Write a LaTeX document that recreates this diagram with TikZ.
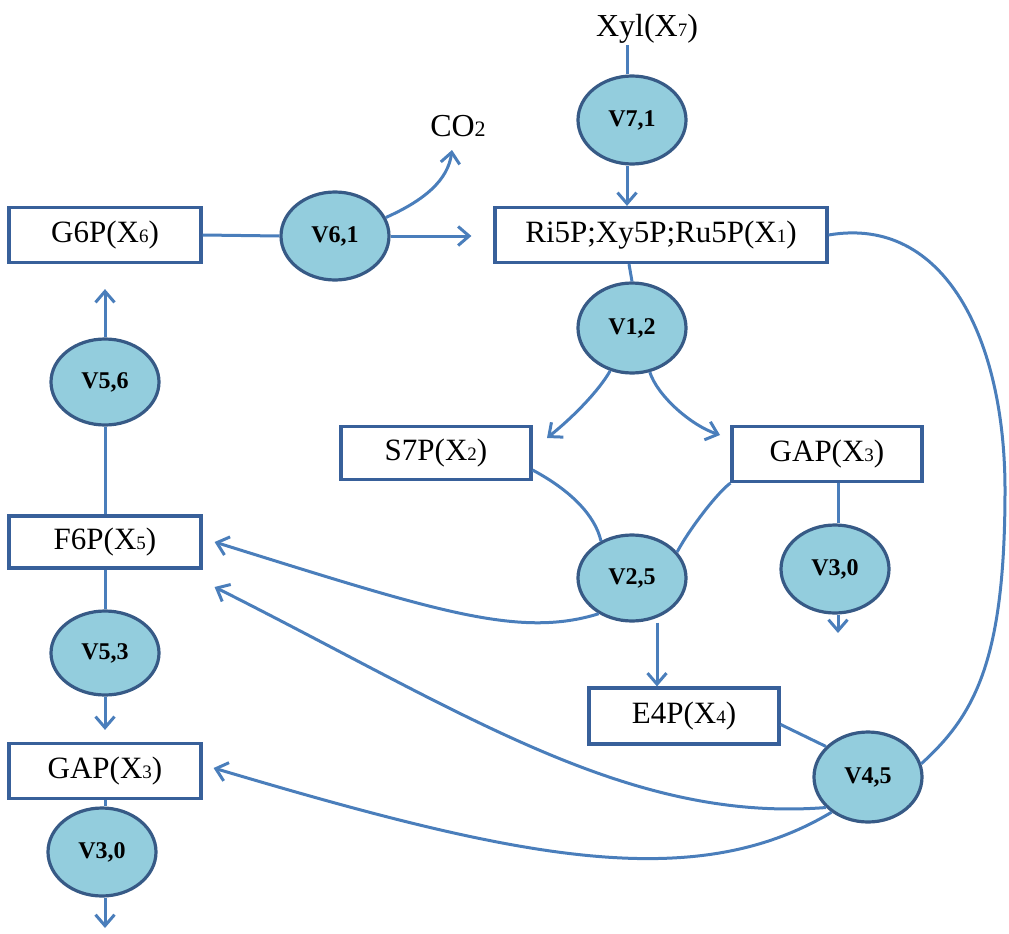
\documentclass[tikz,border=0pt]{standalone}
\usepackage{fontspec}
\setmainfont{Liberation Serif}
\usetikzlibrary{arrows.meta,shapes.geometric}
\definecolor{lnblue}{HTML}{4A7EBB}
\definecolor{ellfill}{HTML}{93CDDD}
\definecolor{ellline}{HTML}{375A86}
\definecolor{boxline}{HTML}{38609A}
\newcommand{\dg}[1]{{\fontsize{19}{20}\selectfont #1}}
\begin{document}
\begin{tikzpicture}[x=1pt,y=-1pt,
  box/.style={draw=boxline,line width=3.2pt,fill=white,minimum height=55pt,inner sep=0pt,font=\fontsize{31}{36}\selectfont},
  rxn/.style={ellipse,draw=ellline,fill=ellfill,line width=3.2pt,minimum width=108pt,minimum height=88pt,inner sep=0pt,font=\fontsize{24}{28}\selectfont\bfseries},
  lbl/.style={inner sep=0pt,font=\fontsize{32}{36}\selectfont},
  conn/.style={draw=lnblue,line width=3pt},
  arr/.style={conn,-{Straight Barb[length=11pt,width=19pt]}}]
\useasboundingbox (0,0) rectangle (1009,934);
% boxes
\node[box,minimum width=192pt] (g6p) at (105,235) {G6P(X\dg{6})};
\node[box,minimum width=332pt] (ri) at (661,235) {Ri5P;Xy5P;Ru5P(X\dg{1})};
\node[box,minimum width=190pt,minimum height=53pt] (s7p) at (436,453) {S7P(X\dg{2})};
\node[box,minimum width=190pt] (gapr) at (827,454) {GAP(X\dg{3})};
\node[box,minimum width=190pt,minimum height=56pt] (e4p) at (684,716) {E4P(X\dg{4})};
\node[box,minimum width=192pt,minimum height=52pt] (f6p) at (105,542) {F6P(X\dg{5})};
\node[box,minimum width=192pt] (gapl) at (105,771) {GAP(X\dg{3})};
% reactions
\node[rxn] (v71) at (632,120) {V7,1};
\node[rxn] (v61) at (335,236) {V6,1};
\node[rxn,minimum height=90pt] (v12) at (632,328) {V1,2};
\node[rxn,minimum height=86pt] (v56) at (105,382) {V5,6};
\node[rxn,minimum height=86pt] (v25) at (632,578) {V2,5};
\node[rxn] (v30r) at (835,569) {V3,0};
\node[rxn,minimum height=84pt] (v53) at (105,653) {V5,3};
\node[rxn,minimum height=90pt] (v45) at (868,777) {V4,5};
\node[rxn] (v30l) at (102,852) {V3,0};
% labels
\node[lbl] (xyl) at (647,29) {Xyl(X\dg{7})};
\node[lbl] (co2) at (458,126) {CO{\fontsize{22}{24}\selectfont 2}};
\coordinate (co2tip) at (452,150);
\coordinate (v30rout) at (838,633);
\coordinate (v30lout) at (105,928);
% connectors
\draw[conn] ([xshift=-5pt]v71.north |- 0,45) -- ([xshift=-5pt]v71.north);
\draw[arr] ([xshift=-5pt]v71.south) -- ([xshift=-5pt]v71.south |- ri.north);
\draw[conn] (g6p.east) -- (v61.west);
\draw[arr] (v61.east) -- ([xshift=-22pt]v61.east -| ri.west);
\draw[arr] (v61.20) .. controls (425,200) and (448,180) .. (co2tip);
\draw[conn] ([xshift=-3pt]v12.north |- ri.south) -- (v12.north);
\draw[arr] (v12.243) .. controls (598,392) and (572,418) .. (547,438);
\draw[arr] (v12.-68) .. controls (657,395) and (690,425) .. (720,435);
\draw[conn] (s7p.-10) .. controls (570,490) and (595,515) .. (v25.130);
\draw[conn] (gapr.south west) .. controls (718,492) and (690,528) .. (v25.30);
\draw[arr] (v25.-133) .. controls (518,639) and (433,610) .. ([xshift=12pt]f6p.east);
\draw[arr] ([xshift=25pt]v25.south) -- ([xshift=25pt]v25.south |- e4p.north);
\draw[conn] ([xshift=3pt]v30r.north |- gapr.south) -- ([xshift=3pt]v30r.north);
\draw[arr] (v30r.south -| v30rout) -- (v30rout);
\draw[conn] (e4p.-5) -- (v45.144);
\draw[conn] (ri.east) .. controls (945,215) and (1005,340) .. (1005,490)
  .. controls (1005,660) and (975,715) .. (v45.14);
\draw[arr] (v45.-144) .. controls (627,823) and (463,712) .. ([xshift=12pt,yshift=-45pt]f6p.east);
\draw[arr] (v45.-136) .. controls (692,896) and (513,857) .. ([xshift=11pt,yshift=3pt]gapl.east);
\draw[conn] (f6p.north) -- (v56.south);
\draw[arr] (v56.north) -- ([yshift=-25pt]g6p.south);
\draw[conn] (f6p.south) -- (v53.north);
\draw[arr] (v53.south) -- ([yshift=12pt]gapl.north);
\draw[conn] (gapl.south) -- (gapl.south |- v30l.north);
\draw[arr] (v30lout |- v30l.south) -- (v30lout);
\end{tikzpicture}
\end{document}
